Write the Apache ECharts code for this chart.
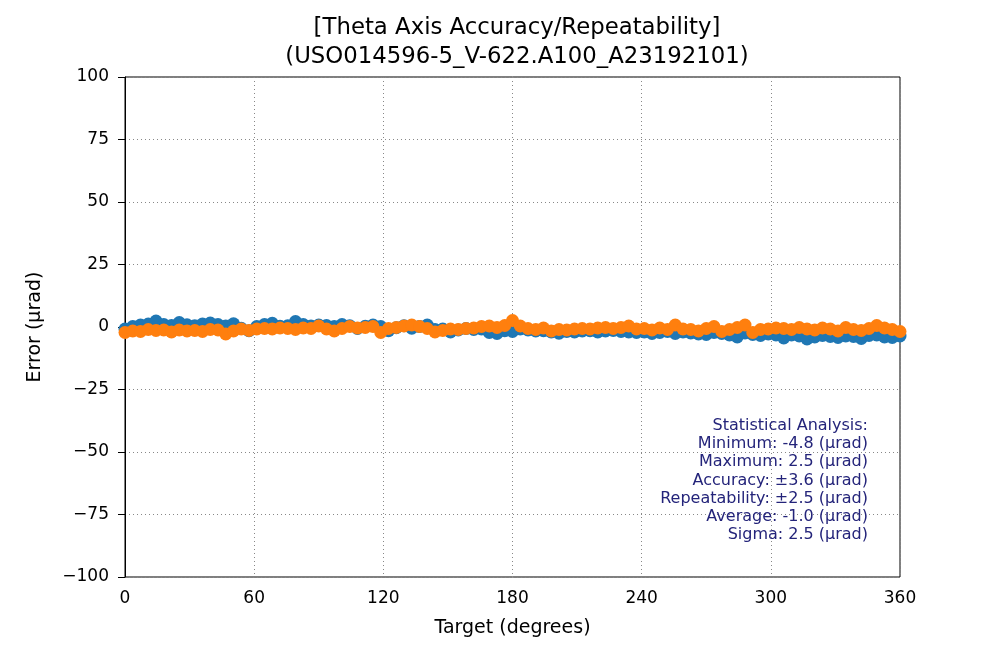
<!DOCTYPE html>
<html>
<head>
	<meta charset="utf-8">
	<title>Theta Axis Accuracy</title>
	<style type="text/css">
		body { margin: 0; background: #fff; }
		#main { width: 1000px; height: 647px; }
	</style>
	<script src="https://cdn.jsdelivr.net/npm/echarts@6/dist/echarts.min.js"></script>
</head>
<body>
	<div id="main"></div>
	<script type="text/javascript">

	// target positions, every 3.6 degrees
	var targets = [];
	for (var i = 0; i <= 100; i++) targets.push(+(i * 3.6).toFixed(1));

	// run 1 (blue)
	var run1 = [
		-0.8, 0.2, 0.8, 1.2, 2.4, 1.0, 0.6, 1.8, 0.9, 0.5, 1.2, 1.6, 1.0, 0.4, 1.3, -0.5, -1.5,
		0.2, 1.0, 1.5, 0.3, 0.5, 2.2, 1.0, 0.4, 0.8, 0.6, 0.2, 1.0, 0.5, -0.6, 0.3, 0.8, 0.2,
		-1.5, -0.3, 0.5, -0.5, 0.2, 0.8, -1.0, -0.8, -2.0, -1.2, -0.6, -1.0, -0.8, -2.2, -2.6, -1.5, -1.8,
		-0.8, -1.2, -1.6, -1.5, -2.0, -2.5, -1.8, -2.0, -1.6, -1.5, -2.0, -1.6, -1.4, -1.8, -2.0, -2.2, -2.0,
		-2.6, -2.2, -1.8, -2.6, -2.0, -2.4, -2.8, -3.0, -2.2, -2.6, -3.2, -4.0, -2.4, -3.0, -3.4, -2.8, -3.2,
		-4.4, -3.2, -3.6, -4.8, -4.0, -3.4, -3.8, -4.2, -3.6, -3.8, -4.6, -3.4, -3.2, -4.0, -4.2, -3.6
	];

	// run 2 (orange)
	var run2 = [
		-2.2, -1.6, -1.8, -1.0, -1.4, -1.2, -2.0, -1.2, -1.6, -1.4, -1.8, -1.0, -1.2, -2.8, -1.6, -0.8, -1.4,
		-0.8, -0.6, -0.8, -0.4, -0.6, -1.0, -0.4, -0.6, 0.4, -0.8, -1.6, -0.6, 0.2, -0.4, -0.2, 0.2, -2.2,
		-0.6, -0.2, 0.4, 0.8, 0.2, -0.6, -2.0, -1.4, -0.8, -1.0, -0.6, -0.4, 0.2, 0.4, -0.2, 0.6, 2.6,
		0.4, -0.6, -1.0, -0.4, -1.6, -1.0, -1.2, -0.8, -0.6, -0.8, -0.4, -0.2, -0.6, -0.2, 0.4, -0.8, -0.6,
		-1.2, -0.4, -1.0, 0.8, -0.8, -1.0, -1.6, -0.6, 0.2, -1.8, -1.0, -0.2, 0.8, -2.2, -1.0, -0.8, -0.4,
		-0.6, -1.0, -0.2, -0.8, -1.2, -0.4, -0.8, -1.6, -0.2, -1.0, -1.4, -0.6, 0.6, -0.4, -1.0, -1.8
	];

	var statsLines = [
		'Statistical Analysis:',
		'Minimum: -4.8 (\u00b5rad)',
		'Maximum: 2.5 (\u00b5rad)',
		'Accuracy: \u00b13.6 (\u00b5rad)',
		'Repeatability: \u00b12.5 (\u00b5rad)',
		'Average: -1.0 (\u00b5rad)',
		'Sigma: 2.5 (\u00b5rad)'
	];

	function pairs(xs, ys) {
		return xs.map(function (x, i) { return [x, ys[i]]; });
	}

	var font = 'DejaVu Sans';
	var minus = function (v) { return String(v).replace('-', '\u2212'); };

	var chart = echarts.init(document.getElementById('main'));
	chart.setOption({
		animation: false,
		textStyle: { fontFamily: font },
		title: {
			text: '[Theta Axis Accuracy/Repeatability]\n(USO014596-5_V-622.A100_A23192101)',
			left: 512, top: 9, textAlign: 'center',
			textStyle: { fontFamily: font, fontSize: 22.8, fontWeight: 'normal', color: '#000', lineHeight: 29 }
		},
		grid: { left: 125, right: 100, top: 77, bottom: 70, show: true, borderColor: '#000', borderWidth: 1 },
		xAxis: {
			type: 'value', min: 0, max: 360, interval: 60,
			name: 'Target (degrees)', nameLocation: 'middle', nameGap: 42,
			nameTextStyle: { fontFamily: font, fontSize: 19, color: '#000' },
			axisLine: { show: true, lineStyle: { color: '#000' } },
			axisTick: { show: true, inside: false, length: 7, lineStyle: { color: '#000' } },
			axisLabel: { fontFamily: font, fontSize: 17, color: '#000', margin: 13 },
			splitLine: { show: true, lineStyle: { type: [1, 3], color: '#888' } }
		},
		yAxis: {
			type: 'value', min: -100, max: 100, interval: 25,
			name: 'Error (\u00b5rad)', nameLocation: 'middle', nameGap: 80, nameRotate: 90,
			nameTextStyle: { fontFamily: font, fontSize: 19, color: '#000' },
			axisLine: { show: true, lineStyle: { color: '#000' } },
			axisTick: { show: true, inside: false, length: 7, lineStyle: { color: '#000' } },
			axisLabel: { fontFamily: font, fontSize: 17, color: '#000', margin: 16, formatter: minus },
			splitLine: { show: true, lineStyle: { type: [1, 3], color: '#888' } }
		},
		series: [
			{
				type: 'scatter', data: pairs(targets, run1), symbolSize: 13,
				itemStyle: { color: '#1f77b4', opacity: 1 }
			},
			{
				type: 'scatter', data: pairs(targets, run2), symbolSize: 13,
				itemStyle: { color: '#ff7f0e', opacity: 1 }
			}
		],
		graphic: [
			{
				type: 'text', x: 868, y: 417, z: 100,
				style: {
					text: statsLines.join('\n'),
					textAlign: 'right',
					align: 'right',
					fill: '#24247a',
					font: '16px "DejaVu Sans"',
					lineHeight: 18.1
				}
			}
		]
	});

	</script>
</body>
</html>
